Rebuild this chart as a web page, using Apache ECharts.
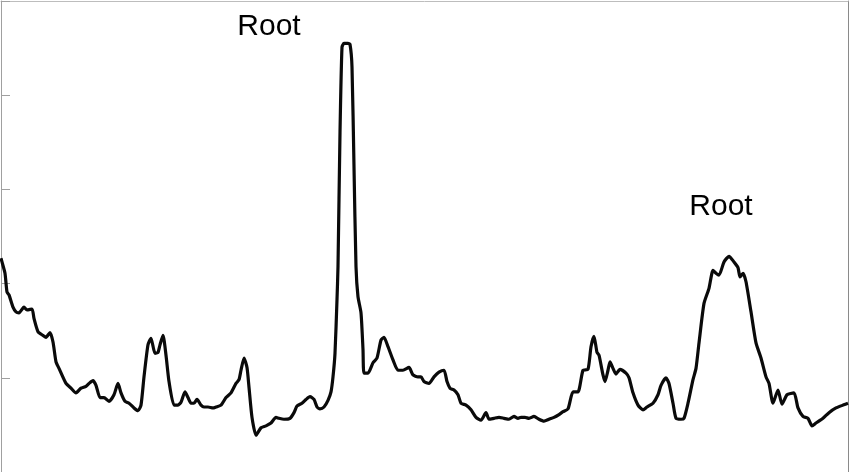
<!DOCTYPE html>
<html>
<head>
<meta charset="utf-8">
<script src="https://cdn.jsdelivr.net/npm/echarts@6/dist/echarts.min.js"></script>
<style>
html,body{margin:0;padding:0;background:#fff;}
#chart{width:850px;height:472px;}
</style>
</head>
<body>
<div id="chart"></div>
<script>
// Position along the spectrum (arbitrary units)
const positions = [0,1,4,6,8,12,15,18,23,26,31,33,37,42,45,49,52,55,58,65,70,75,80,85,88,92,95,99,103,108,113,117,120,124,128,133,137,140,143,147,150,154,157,159,162,165,168,173,177,180,184,187,190,193,196,200,203,207,212,215,220,225,230,235,238,240,243,246,248,251,255,260,265,270,275,278,283,289,293,296,301,305,309,313,316,319,323,327,330,332,334,336,337,339,341,343,347,349,351,353,355,357,360,362,363,367,372,376,380,383,387,392,397,402,408,412,417,420,423,428,433,438,443,446,449,453,457,460,465,470,475,480,485,488,493,498,503,508,513,517,520,524,528,533,538,543,548,553,558,562,567,572,577,582,587,590,593,596,598,602,604,607,609,612,615,619,625,628,632,637,642,646,652,657,660,665,668,672,675,680,683,687,692,695,698,703,708,712,715,718,723,728,733,737,739,742,745,750,755,760,765,768,772,777,781,786,793,797,802,807,811,815,822,828,835,842,847];
// Signal intensity
const intensity = [2.27,2.23,2.11,1.91,1.88,1.75,1.70,1.69,1.75,1.72,1.73,1.63,1.49,1.45,1.43,1.48,1.38,1.17,1.10,0.94,0.89,0.84,0.89,0.91,0.94,0.97,0.92,0.79,0.79,0.75,0.82,0.94,0.84,0.75,0.73,0.68,0.65,0.71,1.01,1.35,1.42,1.26,1.27,1.35,1.45,1.24,0.96,0.71,0.71,0.74,0.85,0.79,0.73,0.73,0.77,0.71,0.69,0.69,0.68,0.69,0.71,0.79,0.84,0.94,0.98,1.08,1.21,1.11,0.90,0.58,0.39,0.47,0.49,0.52,0.58,0.57,0.56,0.57,0.63,0.70,0.73,0.77,0.80,0.77,0.69,0.67,0.69,0.76,0.85,1.01,1.26,1.83,2.18,3.60,4.51,4.55,4.55,4.54,4.30,3.24,2.18,1.86,1.69,1.30,1.05,1.05,1.16,1.21,1.40,1.43,1.33,1.19,1.08,1.08,1.11,1.03,1.01,1.01,0.96,0.94,1.01,1.06,1.08,0.96,0.89,0.87,0.82,0.73,0.71,0.66,0.58,0.55,0.63,0.56,0.57,0.58,0.57,0.56,0.59,0.57,0.58,0.58,0.57,0.59,0.56,0.54,0.56,0.58,0.61,0.64,0.67,0.85,0.85,1.08,1.09,1.33,1.44,1.27,1.24,1.03,0.96,1.08,1.17,1.10,1.04,1.09,1.05,1.00,0.84,0.71,0.66,0.69,0.73,0.82,0.92,1.00,0.94,0.73,0.57,0.56,0.57,0.73,0.98,1.10,1.37,1.79,1.95,2.14,2.11,2.09,2.23,2.29,2.23,2.17,2.07,2.11,2.02,1.70,1.37,1.21,1.01,0.94,0.73,0.87,0.72,0.82,0.84,0.68,0.59,0.57,0.49,0.52,0.57,0.63,0.68,0.71,0.73];
// Peak annotations: label text, position, intensity at label
const annoLabels = ['Root', 'Root'];
const annoX = [268, 720];
const annoY = [4.73, 2.82];

const chart = echarts.init(document.getElementById('chart'), null, {renderer: 'canvas'});
const data = positions.map((x, i) => [x, intensity[i]]);
const annoData = annoLabels.map((t, i) => ({value: [annoX[i], annoY[i]], name: t}));

chart.setOption({
  animation: false,
  backgroundColor: '#ffffff',
  grid: {left: 1, right: 2, top: 1, bottom: 0, containLabel: false},
  xAxis: [
    {type: 'value', min: 0, max: 847, position: 'bottom',
     axisLine: {show: false}, axisTick: {show: false}, axisLabel: {show: false}, splitLine: {show: false}},
    {type: 'value', min: 0, max: 847, position: 'top',
     axisLine: {show: true, onZero: false, lineStyle: {color: '#bdbdbd', width: 1}},
     axisTick: {show: false}, axisLabel: {show: false}, splitLine: {show: false}}
  ],
  yAxis: [
    {type: 'value', min: 0, max: 5, interval: 1, position: 'left',
     axisLine: {show: true, onZero: false, lineStyle: {color: '#a0a0a0', width: 1}},
     axisTick: {show: true, inside: true, length: 9, lineStyle: {color: '#a0a0a0', width: 1}},
     axisLabel: {show: false}, splitLine: {show: false}},
    {type: 'value', min: 0, max: 5, position: 'right',
     axisLine: {show: true, onZero: false, lineStyle: {color: '#8a8a8a', width: 1}},
     axisTick: {show: false}, axisLabel: {show: false}, splitLine: {show: false}}
  ],
  series: [
    {type: 'line', data: data, showSymbol: false, symbol: 'none', smooth: 0.2,
     lineStyle: {color: '#0a0a0a', width: 3.2}, z: 3},
    {type: 'scatter', data: annoData, symbolSize: 0, silent: true,
     itemStyle: {opacity: 1},
     label: {show: true, position: 'inside', formatter: p => p.name, opacity: 1,
             fontFamily: 'Liberation Sans, Arial, sans-serif', fontSize: 30, color: '#000'}}
  ]
});
</script>
</body>
</html>
